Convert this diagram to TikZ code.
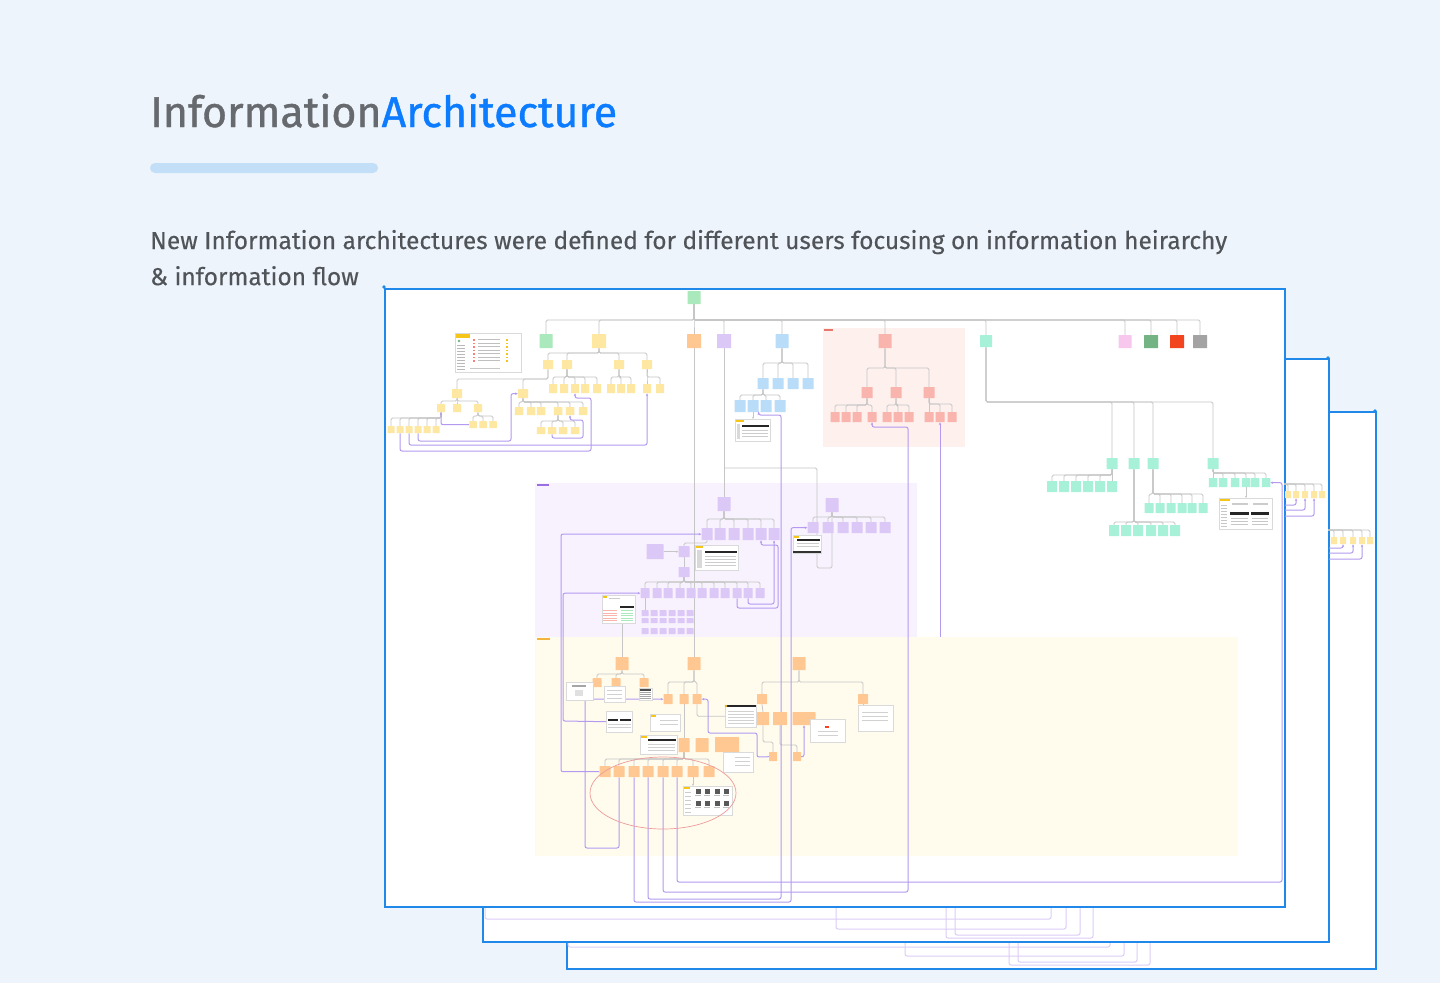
\documentclass[tikz,border=0pt]{standalone}
\usepackage{fontspec}
\setmainfont{Fira Sans}
\newfontfamily\titlefont{Fira Sans}[FakeBold=0.9]
\newfontfamily\subfont{Fira Sans}[FakeBold=0.3]
\usetikzlibrary{arrows.meta}
\definecolor{bg}{HTML}{EDF4FB}
\definecolor{frm}{HTML}{2088E8}
\definecolor{tgray}{HTML}{66696E}
\definecolor{tblue}{HTML}{0B7BFF}
\definecolor{sgray}{HTML}{505459}
\definecolor{barc}{HTML}{C3DFF8}
\definecolor{ylw}{HTML}{FDE7A1}
\definecolor{grn}{HTML}{A9E9BC}
\definecolor{org}{HTML}{FFC893}
\definecolor{prp}{HTML}{DCC8F7}
\definecolor{blu}{HTML}{B9DDF9}
\definecolor{rdp}{HTML}{FAB4AE}
\definecolor{mnt}{HTML}{A6F1D8}
\definecolor{pnk}{HTML}{F7C7EE}
\definecolor{dgr}{HTML}{74B383}
\definecolor{rdx}{HTML}{F2441F}
\definecolor{gry}{HTML}{A3A3A3}
\definecolor{lgray}{HTML}{C6C6C6}
\definecolor{plc}{HTML}{B39AF0}
\definecolor{plcl}{HTML}{DCCDF7}
\definecolor{thb}{HTML}{DADADA}
\definecolor{pinkreg}{HTML}{FDF0ED}
\definecolor{purreg}{HTML}{F8F2FE}
\definecolor{yelreg}{HTML}{FFFCEE}
\definecolor{ellc}{HTML}{EE9A9A}
\definecolor{tagc}{HTML}{F5C518}
\definecolor{tagr}{HTML}{E8776B}
\definecolor{tagp}{HTML}{9B6FE0}
\definecolor{tago}{HTML}{F2B43C}
\pgfdeclarelayer{back}
\pgfdeclarelayer{mid}
\pgfsetlayers{back,mid,main}
\tikzset{
  box/.style={draw=none,inner sep=0pt,anchor=north,rounded corners=0.3pt},
  conn/.style={draw=lgray,line width=0.8pt,rounded corners=1.5pt},
  cend/.style={conn,-{Stealth[length=2.2pt,width=2pt]}},
  plink/.style={draw=plc,line width=1pt,rounded corners=2pt},
  plinkl/.style={draw=plcl,line width=1pt,rounded corners=2pt},
  pend/.style={plink,-{Stealth[length=2.6pt,width=2.4pt]}},
  pstart/.style={plink,{Stealth[length=2.6pt,width=2.4pt]}-},
  thumbbox/.style={draw=thb,fill=white,line width=0.4pt,inner sep=0pt,anchor=north west},
  framebox/.style={draw=frm,fill=white,line width=1.8pt,inner sep=0pt,anchor=north west},
}
\newcommand\bx[6]{\node[box,fill=#2,minimum width=#5,minimum height=#6] (#1) at (#3,#4) {};}
\newcommand\rowtree[8]{%
  \coordinate (tb) at (0,#2);
  \foreach \xx [count=\ii] in {#8} {%
    \node[box,fill=#4,minimum width=#6,minimum height=#7] (#3\ii) at (\xx,#5) {};
    \begin{pgfonlayer}{mid}\draw[conn] (#1.south) -- (#1.south |- tb) -| (#3\ii.north);\end{pgfonlayer}
  }}
\newcommand\thumb[5]{\node[thumbbox,minimum width={#4-#2},minimum height={#5-#3}] (#1) at (#2,#3) {};}
\begin{document}
\begin{tikzpicture}[x=1pt,y=-1pt]
\begin{pgfonlayer}{back}
\fill[bg] (0,0) rectangle (1440,983);
% frame 3
\node[framebox,minimum width=809,minimum height=557] (fr3) at (566,411) {};
\foreach \xa/\yb/\xc in {568/947/1110,905/956/1124,1009/965/1150,1018/962/1137}
  \draw[plinkl] (\xa,930) |- (\xc,\yb) -- (\xc,930);
% frame 2
\node[framebox,minimum width=846,minimum height=583] (fr2) at (482,358) {};
\foreach \xa/\yb/\xc in {485/919/1051,836/929/1066,946/938/1093,955/935/1080}
  \draw[plinkl] (\xa,895) |- (\xc,\yb) -- (\xc,895);
% frame 1
\node[framebox,minimum width=900,minimum height=618] (fr1) at (384,288) {};
\fill[frm] (384,287) circle (1.8);
\fill[frm] (1328,358) circle (1.8);
\fill[frm] (1375,411) circle (1.8);
% regions
\fill[pinkreg] (823,328) rectangle (965,447);
\fill[tagr] (824,329) rectangle (833,331);
\fill[purreg] (535,483) rectangle (917,637);
\fill[tagp] (537,484) rectangle (549,486);
\fill[yelreg] (535,637) rectangle (1238,856);
\fill[tago] (537,638) rectangle (550,640);
\end{pgfonlayer}
\useasboundingbox (0,0) rectangle (1440,983);

% ---------- title ----------
\node[anchor=base west,inner sep=0pt] (title) at (150,127)
  {\resizebox{467pt}{!}{\titlefont\fontsize{40}{48}\selectfont\color{tgray}Information\color{tblue}Architecture}};
\fill[barc,rounded corners=5pt] (150,163) rectangle (378,173);
\node[anchor=base west,inner sep=0pt] (subtitle) at (150,249)
  {\resizebox{1077pt}{!}{\subfont\fontsize{22}{32.5}\selectfont\color{sgray}\begin{tabular}[t]{@{}l@{}}New Information architectures were defined for different users focusing on information heirarchy\\ \& information flow\end{tabular}}};

% ---------- top level ----------
\bx{root}{grn}{694}{291}{13}{13}
\bx{g1}{grn}{546}{334}{13}{14}
\bx{y1}{ylw}{599}{334}{14}{14}
\bx{o1}{org}{694}{334}{14}{14}
\bx{p1}{prp}{724}{334}{14}{14}
\bx{b1}{blu}{782}{334}{13}{14}
\bx{r1}{rdp}{885}{334}{13}{14}
\bx{m1}{mnt}{986}{335}{12}{12}
\bx{k1}{pnk}{1125}{335}{13}{13}
\bx{dg}{dgr}{1151}{335}{14}{13}
\bx{rx}{rdx}{1177}{335}{14}{13}
\bx{gy}{gry}{1200}{335}{14}{13}
\coordinate (topbus) at (0,320);
\begin{pgfonlayer}{mid}
\foreach \n in {g1,y1,o1,p1,b1,r1,m1,k1,dg,rx,gy}
  \draw[conn] (root.south) -- (root.south |- topbus) -| (\n.north);
\end{pgfonlayer}

% ---------- yellow tree ----------
\rowtree{y1}{353}{ya}{ylw}{360}{10}{9}{548,567,619,647}
\rowtree{ya2}{377}{yb}{ylw}{384}{8}{9}{553,564,575,585,597}
\rowtree{ya3}{377}{yc}{ylw}{384}{8}{9}{611,621,631}
\rowtree{ya4}{377}{yd}{ylw}{384}{8}{9}{647,660}
\rowtree{ya1}{379}{ye}{ylw}{389}{10}{9}{457,523}
\rowtree{ye1}{401}{yf}{ylw}{404}{8}{8}{441,457,478}
\rowtree{yf1}{418}{yg}{ylw}{426}{7}{7}{391,400,409,418,427,436}
\rowtree{yf3}{416}{yh}{ylw}{421}{7.5}{7}{473,483,493}
\rowtree{ye2}{402}{yi}{ylw}{407}{8.5}{8}{519,531,541,558,570,583}
\rowtree{yi4}{421}{yj}{ylw}{427}{8.5}{7}{541,552,563,575}
\thumb{t1}{455}{333}{521}{372}
\fill[tagc] (456,334) rectangle (470,337.5);
\fill[dgr] (459,341) circle (1.4);
\foreach \yy in {345,348,...,369} \fill[black!28] (457,\yy) rectangle (465,\yy+0.8);
\foreach \yy in {339,342.5,...,363} {\fill[rdp!70!red] (473,\yy) rectangle (475,\yy+1.5); \fill[black!25] (478,\yy) rectangle (500,\yy+0.8); \fill[tagc] (506,\yy) rectangle (508,\yy+1.5);}
\fill[black!22] (470,368) rectangle (500,369);

% ---------- blue tree ----------
\rowtree{b1}{363}{ba}{blu}{378}{11}{11}{763,778,793,808}
\rowtree{ba1}{395}{bb}{blu}{400}{11}{12}{740,753,766,780}
\thumb{t2}{735}{419}{770}{441}
\fill[tagc] (735.5,419.5) rectangle (744,421.5);
\fill[black!85] (742,425) rectangle (769,427);
\foreach \yy in {430,433,436} \fill[black!20] (742,\yy) rectangle (768,\yy+0.6);
\fill[black!15] (737,424) rectangle (740,439);

% ---------- red tree ----------
\rowtree{r1}{368}{ra}{rdp}{387}{11}{11}{867,896,929}
\rowtree{ra1}{405}{rb}{rdp}{412}{9}{10}{835,846,857,872}
\rowtree{ra2}{405}{rc}{rdp}{412}{9}{10}{887,898,909}
\rowtree{ra3}{404}{rd}{rdp}{412}{9}{10}{929,940,952}

% ---------- mint tree ----------
\rowtree{m1}{402}{ma}{mnt}{458}{11}{11}{1112,1134,1153,1213}
\rowtree{ma1}{475}{mb}{mnt}{481}{10}{11}{1052,1064,1076,1088,1100,1112}
\rowtree{ma2}{522}{mc}{mnt}{525}{10}{11}{1114,1126,1138,1151,1163,1175}
\rowtree{ma3}{494}{md}{mnt}{503}{9}{10}{1149,1160,1171,1182,1192,1203}
\rowtree{ma4}{473}{me}{mnt}{478}{8.5}{9}{1213,1223,1235,1246,1255,1266}
\thumb{t6}{1219}{498}{1272}{529}
\fill[tagc] (1219.5,498.5) rectangle (1230,501);
\foreach \yy in {505,508,...,526} \fill[black!22] (1221,\yy) rectangle (1227,\yy+0.6);
\fill[black!20] (1232,503) rectangle (1248,505);
\fill[black!20] (1253,503) rectangle (1268,505);
\fill[black!85] (1230,512) rectangle (1249,515);
\fill[black!85] (1251,512) rectangle (1269,515);
\foreach \yy in {518,521,524} {\fill[black!22] (1231,\yy) rectangle (1248,\yy+0.6); \fill[black!22] (1252,\yy) rectangle (1268,\yy+0.6);}

% ---------- purple area ----------
\bx{pa}{prp}{724}{497}{13}{14}
\rowtree{pa}{519}{pb}{prp}{528}{11}{12}{707,720,734,748,761,774}
\bx{pc}{prp}{684}{546}{11}{11}
\bx{pd}{prp}{655}{544}{17}{15}
\bx{pe}{prp}{684}{567}{11}{10}
\rowtree{pe}{582}{pf}{prp}{588}{9}{10}{645,657,668,680,691,702,714,725,737,748,760}
\foreach \yy/\hh [count=\rr] in {610/6,618/5,628/6}
  \foreach \xx [count=\cc] in {645,654,663,672,681,690}
    \node[box,fill=prp,minimum width=7,minimum height=\hh] (pg\rr\cc) at (\xx,\yy) {};
\bx{pq}{prp}{832}{498}{13}{14}
\rowtree{pq}{517}{ph}{prp}{522}{11}{11}{813,828,843,857,871,885}
\thumb{t3}{695}{545}{738}{570}
\fill[tagc] (695.5,545.5) rectangle (703,548);
\fill[black!85] (705,551) rectangle (737,553);
\foreach \yy in {556,559,562,565} \fill[black!20] (705,\yy) rectangle (736,\yy+0.6);
\fill[black!15] (697,550) rectangle (702,568);
\thumb{t4}{793}{535}{821}{553}
\fill[tagc] (793.5,535.5) rectangle (799,537.5);
\fill[black!85] (797,539) rectangle (820,541);
\foreach \yy in {543,546} \fill[black!20] (797,\yy) rectangle (819,\yy+0.6);
\fill[black!80] (793,551) rectangle (821,552.5);
\thumb{t5}{602}{595}{635}{623}
\fill[tagc] (603,595.5) rectangle (607,597.5);
\fill[black!20] (609,598) rectangle (620,599);
\fill[black!85] (620,606) rectangle (634,607.5);
\foreach \yy in {610,612.5,...,620} {\fill[rdp] (603,\yy) rectangle (617,\yy+1); \fill[grn] (621,\yy) rectangle (633,\yy+1);}

% ---------- orange area ----------
\bx{oa1}{org}{622}{657}{13}{13}
\bx{oa2}{org}{694}{657}{13}{13}
\bx{oa3}{org}{799}{657}{13}{13}
\rowtree{oa1}{674}{oc}{org}{678}{9}{9}{597,616,644}
\rowtree{oa2}{682}{od}{org}{694}{9}{10}{668,684,697}
\rowtree{oa3}{682}{oe}{org}{694}{10}{10}{762,863}
\bx{of1}{org}{763}{712}{12}{13}
\bx{of2}{org}{780}{712}{14}{13}
\bx{of3}{org}{804}{712}{23}{13}
\bx{og1}{org}{773}{752}{8}{9}
\bx{og2}{org}{797}{752}{8}{9}
\bx{oh1}{org}{684}{738}{11}{14}
\bx{oh2}{org}{702}{738}{13}{14}
\bx{oh3}{org}{727}{737}{24}{15}
\rowtree{oh1}{759}{ob}{org}{766}{11}{11}{605,619,634,648,663,677,693,709}
\thumb{o1t}{566}{682}{593}{700}
\fill[black!35] (572,685) rectangle (586,686.5);
\fill[black!12] (575,690) rectangle (583,696);
\thumb{o2t}{604}{686}{625}{702}
\foreach \yy in {690,694,698} \fill[black!18] (607,\yy) rectangle (622,\yy+0.6);
\thumb{o3t}{639}{688}{652}{700}
\fill[black!70] (640,689) rectangle (651,690.5);
\foreach \yy in {692,694,...,698} \fill[black!35] (640,\yy) rectangle (651,\yy+0.7);
\thumb{o4t}{606}{711}{632}{732}
\fill[black!85] (608,719) rectangle (618,721);
\fill[black!85] (620,719) rectangle (631,721);
\foreach \yy in {724,727} \fill[black!18] (608,\yy) rectangle (631,\yy+0.6);
\thumb{o5t}{650}{714}{680}{731}
\fill[tagc] (650.5,714.5) rectangle (656,716.5);
\foreach \yy in {720,724} \fill[black!18] (660,\yy) rectangle (678,\yy+0.6);
\thumb{o6t}{640}{735}{677}{754}
\fill[tagc] (640.5,735.5) rectangle (647,737.5);
\fill[black!85] (648,739) rectangle (676,741);
\foreach \yy in {744,747,750} \fill[black!18] (648,\yy) rectangle (675,\yy+0.6);
\thumb{o7t}{723}{752}{753}{772}
\foreach \yy in {757,761,765} \fill[black!18] (735,\yy) rectangle (750,\yy+0.6);
\thumb{o8t}{725}{705}{756}{727}
\fill[black!85] (725,705) rectangle (756,707);
\fill[tagc] (726,706) circle (1.3);
\foreach \yy in {711,714,...,724} \fill[black!18] (728,\yy) rectangle (754,\yy+0.6);
\thumb{o9t}{810}{719}{845}{742}
\fill[rdx] (825,726) rectangle (829,728);
\foreach \yy in {731,735} \fill[black!18] (818,\yy) rectangle (838,\yy+0.6);
\thumb{o10t}{858}{705}{893}{731}
\foreach \yy in {712,716,720} \fill[black!18] (862,\yy) rectangle (888,\yy+0.6);
\thumb{o11t}{683}{786}{732}{815}
\fill[tagc] (683.5,786.5) rectangle (690,788.5);
\foreach \xx in {698,707,717,726} \foreach \yy in {791,803} {\fill[black!65] (\xx-2.5,\yy-2.5) rectangle (\xx+2.5,\yy+2.5); \fill[black!25] (\xx-3,\yy+4) rectangle (\xx+3,\yy+4.8);}
\foreach \yy in {792,796,...,812} \fill[black!20] (685,\yy) rectangle (691,\yy+0.6);
\draw[ellc,line width=0.7pt] (663,793) ellipse [x radius=73,y radius=36];

% ---------- frame 2 / 3 side rows ----------
\coordinate (f2s) at (1284,484);
\foreach \xx [count=\ii] in {1288,1296,1305,1314,1322}
  \node[box,fill=ylw,minimum width=6,minimum height=7] (fy\ii) at (\xx,491) {};
\coordinate (f3s) at (1328,530);
\foreach \xx [count=\ii] in {1334,1343,1353,1362,1370}
  \node[box,fill=ylw,minimum width=6,minimum height=7] (fz\ii) at (\xx,537) {};
\coordinate (f2a) at (1285,505);
\coordinate (f2b) at (1285,510);
\coordinate (f2c) at (1285,516);
\coordinate (f3a) at (1329,548);
\coordinate (f3b) at (1329,553);
\coordinate (f3c) at (1329,559);

% ---------- connectors ----------
\begin{pgfonlayer}{mid}
\foreach \ii in {1,...,5} {\draw[conn] (f2s) -| (fy\ii.north); \draw[conn] (f3s) -| (fz\ii.north);}
\draw[pstart] (fy2.south) |- (f2a);
\draw[pstart] (fy3.south) |- (f2b);
\draw[pstart] (fy4.south) |- (f2c);
\draw[pstart] (fz2.south) |- (f3a);
\draw[pstart] (fz3.south) |- (f3b);
\draw[pstart] (fz4.south) |- (f3c);
% gray
\draw[conn] (o1.south) -- (oa2.north);
\draw[conn] (p1.south) -- (pa.north);
\coordinate (pj) at (724,468);
\draw[conn] (pj) -| (817,568) -| (pq.south);
\draw[conn] (pb1.south) |- (684,543) -- (pc.north);
\draw[cend] (pd.east) -- (pd.east -| pc.west);
\draw[conn] (pc.south) -- (pe.north);
\draw[conn] (pf1.south) -- (pg11.north);
\draw[cend] (bb2.south) -- (bb2.south |- t2.north);
\draw[cend] (me4.south) -- (me4.south |- t6.north);
\draw[conn] (t5.south -| oa1.north) -- (oa1.north);
\draw[conn] (oe1.south) -- (of1.north);
\draw[conn] (of1.south) |- (773,742) -- (og1.north);
\draw[conn] (of2.south) |- (797,745) -- (og2.north);
\draw[conn] (od3.south) |- (o8t.west);
\draw[conn] (od2.south) -- (oh1.north);
\draw[cend] (ob7.south) -- (ob7.south |- o11t.north);
\draw[conn] (oe2.south) -- (oe2.south |- o10t.north);
% purple, yellow tree
\draw[pend] (yg2.south) |- (591,451) |- (575,398) -- (yb3.south);
\draw[pend] (yg3.south) |- (647,445) -- (yd1.south);
\draw[pend] (yg4.south) |- (511,441) |- (ye2.west);
\draw[pend] (yh1.west) -| (yf1.south);
\draw[pend] (yj2.south) |- (583,438) |- (570,420) -- (yi5.south);
% long purple links
\draw[pstart] (bb2.south east) |- (781,415) -- (781,899) -| (ob4.south);
\draw[pstart] (rb4.south) |- (908,427) -- (908,892) -| (ob5.south);
\coordinate (rdend) at (940,637);
\draw[pstart] (rd2.south) -- (rd2.south |- rdend);
\draw[pstart] (me6.east) -| (1282,882) -| (ob6.south);
\draw[pstart] (ph1.west) -| (791,902) -| (ob3.south);
\draw[pend] (ob1.west) -| (561,534) -- (pb1.west);
\draw[pstart] (pf1.west) -| (563,721) -- (o4t.west);
\draw[pend] (pf9.south) |- (778,608) -- (778,545) -| (pb5.south);
\draw[pend] (pf10.south) |- (774,604) -- (pb6.south);
\draw[pend] (ob2.south) |- (585,848) |- (od1.west);
\draw[pstart] (od3.east) -| (708,733) -| (757,757) -- (og1.west);
\draw[pend] (og2.east) -| (of3.south);
\end{pgfonlayer}
\end{tikzpicture}
\end{document}
